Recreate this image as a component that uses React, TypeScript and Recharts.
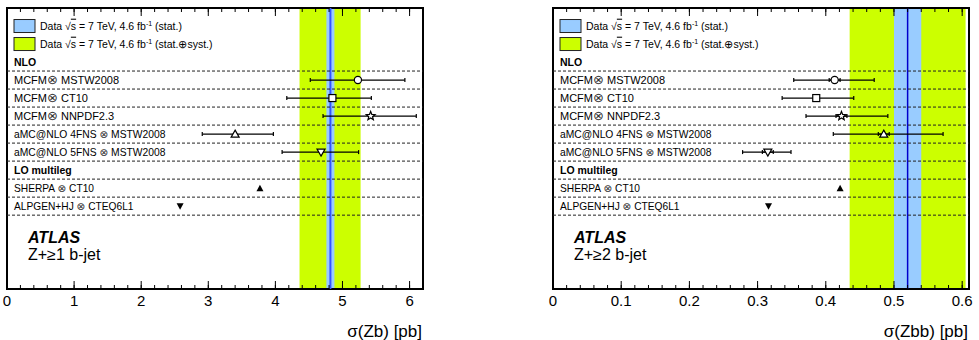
import React from 'react'
import {
  ScatterChart,
  Scatter,
  XAxis,
  YAxis,
  ErrorBar,
  ReferenceArea,
  ReferenceLine,
} from 'recharts'

// ---- prediction labels -------------------------------------------------
const NLO_LABELS = [
  'MCFM⊗ MSTW2008',
  'MCFM⊗ CT10',
  'MCFM⊗ NNPDF2.3',
  'aMC@NLO 4FNS ⊗ MSTW2008',
  'aMC@NLO 5FNS ⊗ MSTW2008',
]
const LO_LABELS = ['SHERPA ⊗ CT10', 'ALPGEN+HJ ⊗ CTEQ6L1']

// ---- Z + >=1 b-jet [pb] --------------------------------------------------
const ZB_MEAS = 4.82
const ZB_STAT = 0.06
const ZB_TOT_DOWN = 0.46
const ZB_TOT_UP = 0.45
const ZB_NLO = [5.23, 4.85, 5.42, 3.4, 4.68]
const ZB_NLO_DOWN = [0.71, 0.68, 0.71, 0.49, 0.58]
const ZB_NLO_UP = [0.7, 0.58, 0.68, 0.57, 0.56]
const ZB_NLO_STAT = [0, 0, 0, 0, 0]
const ZB_LO = [3.77, 2.58]
const ZB_TICKS = [0, 1, 2, 3, 4, 5, 6]

// ---- Z + >=2 b-jets [pb] -------------------------------------------------
const ZBB_MEAS = 0.52
const ZBB_STAT = 0.02
const ZBB_TOT_DOWN = 0.085
const ZBB_TOT_UP = 0.085
const ZBB_NLO = [0.413, 0.386, 0.423, 0.485, 0.315]
const ZBB_NLO_DOWN = [0.06, 0.05, 0.052, 0.074, 0.037]
const ZBB_NLO_UP = [0.058, 0.055, 0.068, 0.087, 0.034]
const ZBB_NLO_STAT = [0.008, 0, 0.008, 0.008, 0.008]
const ZBB_LO = [0.421, 0.316]
const ZBB_TICKS = [0, 0.1, 0.2, 0.3, 0.4, 0.5, 0.6]

const NLO_MARKERS = ['circle', 'square', 'star', 'triUp', 'triDown']
const LO_MARKERS = ['triUpFilled', 'triDownFilled']

const FONT = '"Liberation Sans", Arial, Helvetica, sans-serif'
const SYMBOL_FONT = '"DejaVu Sans", sans-serif'
const GREEN = '#ccff00'
const BLUE = '#99ccff'
const ROW_MAX = 15.6

// row positions (top = 0)
const ROW_LEG_STAT = 1
const ROW_LEG_TOT = 2
const ROW_NLO = 3
const ROW_LO = 9
const ROW_ATLAS = 13.05
const ROW_PROCESS = 14.0

type MarkerProps = { cx?: number; cy?: number; payload?: { kind: string } }

function Marker({ cx = 0, cy = 0, payload }: MarkerProps) {
  const kind = payload?.kind
  const common = { stroke: '#000', strokeWidth: 1.2, fill: '#fff' }
  switch (kind) {
    case 'circle':
      return <circle cx={cx} cy={cy} r={3.6} {...common} />
    case 'square':
      return <rect x={cx - 3.5} y={cy - 3.5} width={7} height={7} {...common} />
    case 'star': {
      const pts: string[] = []
      for (let k = 0; k < 10; k++) {
        const r = k % 2 === 0 ? 4.6 : 2
        const a = -Math.PI / 2 + (k * Math.PI) / 5
        pts.push(`${cx + r * Math.cos(a)},${cy + r * Math.sin(a)}`)
      }
      return <polygon points={pts.join(' ')} {...common} />
    }
    case 'triUp':
      return <polygon points={`${cx},${cy - 4} ${cx + 4},${cy + 3} ${cx - 4},${cy + 3}`} {...common} />
    case 'triDown':
      return <polygon points={`${cx},${cy + 4} ${cx + 4},${cy - 3} ${cx - 4},${cy - 3}`} {...common} />
    case 'triUpFilled':
      return <polygon points={`${cx},${cy - 3.5} ${cx + 3.5},${cy + 3} ${cx - 3.5},${cy + 3}`} fill="#000" />
    case 'triDownFilled':
      return <polygon points={`${cx},${cy + 3.5} ${cx + 3.5},${cy - 3} ${cx - 3.5},${cy - 3}`} fill="#000" />
    default:
      return <g />
  }
}

// model label, with the convolution sign drawn from a font that has a full-size glyph
function ModelLabel(props: { x: number; y: number; text: string; size: number; symbolSize: number }) {
  const { x, y, text, size, symbolSize } = props
  const [a, b] = text.split('⊗')
  return (
    <text x={x} y={y} dy="0.35em" fontSize={size} fontFamily={FONT} fill="#000">
      <tspan>{a}</tspan>
      <tspan fontFamily={SYMBOL_FONT} fontSize={symbolSize} fill="#333">⊗</tspan>
      <tspan>{b}</tspan>
    </text>
  )
}

function LegendText({ x, y, tail }: { x: number; y: number; tail: string }) {
  return (
    <text x={x} y={y} dy="0.35em" fontSize={10.5} fontFamily={FONT} fill="#000">
      <tspan>Data √</tspan>
      <tspan textDecoration="overline">s</tspan>
      <tspan> = 7 TeV, 4.6 fb</tspan>
      <tspan dy={-4} fontSize={7}>-1</tspan>
      <tspan dy={4}> ({tail})</tspan>
    </text>
  )
}

interface PanelProps {
  left: number
  marginLeft: number
  marginRight: number
  xMax: number
  ticks: number[]
  minorStep: number
  meas: number
  stat: number
  totDown: number
  totUp: number
  nlo: number[]
  nloDown: number[]
  nloUp: number[]
  nloStat: number[]
  lo: number[]
  xTitle: string
  process: string
  centralColor: string
  centralWidth: number
}

function Panel(p: PanelProps) {
  const width = 490
  const height = 340
  const plotLeft = p.marginLeft

  const nloData = p.nlo.map((v, i) => ({
    x: v,
    row: 4 + i,
    err: [p.nloDown[i], p.nloUp[i]],
    stat: [p.nloStat[i], p.nloStat[i]],
    kind: NLO_MARKERS[i],
  }))
  const loData = p.lo.map((v, i) => ({ x: v, row: 10 + i, kind: LO_MARKERS[i] }))

  const rowText: Record<string, string> = {}
  NLO_LABELS.forEach((l, i) => (rowText[String(4 + i)] = l))
  LO_LABELS.forEach((l, i) => (rowText[String(10 + i)] = l))

  const minorTicks: number[] = []
  for (let v = 0; v <= p.xMax + 1e-9; v += p.minorStep) minorTicks.push(+v.toFixed(4))

  const renderRow = (props: any) => {
    const y = props.y as number
    const v = props.payload.value as number
    const tx = plotLeft + 7
    if (v === ROW_LEG_STAT || v === ROW_LEG_TOT) {
      const fill = v === ROW_LEG_STAT ? BLUE : GREEN
      return (
        <g>
          <rect x={tx} y={y - 6.5} width={21} height={13} fill={fill} stroke="#222" strokeWidth={1} />
          <LegendText x={tx + 26} y={y} tail={v === ROW_LEG_STAT ? 'stat.' : 'stat.⊕syst.'} />
        </g>
      )
    }
    if (v === ROW_NLO || v === ROW_LO) {
      return (
        <text x={tx} y={y} dy="0.35em" fontSize={10.5} fontWeight="bold" fontFamily={FONT} fill="#000">
          {v === ROW_NLO ? 'NLO' : 'LO multileg'}
        </text>
      )
    }
    if (v === ROW_ATLAS) {
      return (
        <text x={plotLeft + 21} y={y} fontSize={16} fontWeight="bold" fontStyle="italic" fontFamily={FONT} fill="#000">
          ATLAS
        </text>
      )
    }
    if (v === ROW_PROCESS) {
      return (
        <text x={plotLeft + 21} y={y} fontSize={16} fontFamily={FONT} fill="#000">
          {p.process}
        </text>
      )
    }
    const label = rowText[String(v)]
    if (v >= 10) return <ModelLabel x={tx} y={y} text={label} size={10.2} symbolSize={10.5} />
    if (label.startsWith('aMC')) return <ModelLabel x={tx} y={y} text={label} size={10.3} symbolSize={10.5} />
    return <ModelLabel x={tx} y={y} text={label} size={11} symbolSize={13} />
  }

  const tickShape = (len: number) => (s: any) => {
    const top = Math.min(s.y1, s.y2)
    const bottom = Math.max(s.y1, s.y2)
    return (
      <g>
        <line x1={s.x1} x2={s.x1} y1={top} y2={top + len} stroke="#000" strokeWidth={1} />
        <line x1={s.x1} x2={s.x1} y1={bottom} y2={bottom - len} stroke="#000" strokeWidth={1} />
      </g>
    )
  }

  return (
    <div style={{ position: 'absolute', left: p.left, top: 0, width, height }}>
      <ScatterChart
        width={width}
        height={height}
        margin={{ top: 8, right: p.marginRight, bottom: 0, left: p.marginLeft }}
      >
        <XAxis
          type="number"
          dataKey="x"
          domain={[0, p.xMax]}
          ticks={p.ticks}
          allowDataOverflow
          axisLine={false}
          tickLine={false}
          tickSize={0}
          tickMargin={6}
          height={51}
          interval={0}
          tick={{ fontSize: 15, fill: '#000', fontFamily: FONT }}
          label={{
            value: p.xTitle,
            position: 'insideBottomRight',
            offset: 3,
            dx: 2,
            fontSize: 17,
            fill: '#000',
            fontFamily: FONT,
          }}
        />
        <YAxis
          type="number"
          dataKey="row"
          domain={[0, ROW_MAX]}
          reversed
          mirror
          allowDataOverflow
          axisLine={false}
          tickLine={false}
          interval={0}
          ticks={[1, 2, 3, 4, 5, 6, 7, 8, 9, 10, 11, ROW_ATLAS, ROW_PROCESS]}
          tick={renderRow}
        />

        {/* measured value: total and statistical bands */}
        <ReferenceArea x1={p.meas - p.totDown} x2={p.meas + p.totUp} fill={GREEN} fillOpacity={1} stroke="none" />
        <ReferenceArea x1={p.meas - p.stat} x2={p.meas + p.stat} fill={BLUE} fillOpacity={1} stroke="none" />
        <ReferenceLine x={p.meas} stroke={p.centralColor} strokeWidth={p.centralWidth} />

        {/* dashed row separators */}
        {[3.5, 4.5, 5.5, 6.5, 7.5, 8.5, 9.5, 10.5, 11.5].map((r) => (
          <ReferenceLine key={r} y={r} stroke="#222" strokeDasharray="3 2" strokeWidth={1} />
        ))}

        {/* inner axis ticks, top and bottom */}
        {minorTicks.map((t) => (
          <ReferenceLine key={`m${t}`} x={t} shape={tickShape(4)} />
        ))}
        {p.ticks.map((t) => (
          <ReferenceLine key={`M${t}`} x={t} shape={tickShape(8)} />
        ))}

        {/* frame */}
        <ReferenceArea x1={0} x2={p.xMax} y1={0} y2={ROW_MAX} fill="none" stroke="#000" strokeWidth={2} />

        <Scatter data={nloData} shape={(s: any) => <Marker {...s} />} isAnimationActive={false}>
          <ErrorBar dataKey="err" direction="x" width={2} stroke="#000" strokeWidth={1.2} />
          <ErrorBar dataKey="stat" direction="x" width={2} stroke="#000" strokeWidth={1.2} />
        </Scatter>
        <Scatter data={loData} shape={(s: any) => <Marker {...s} />} isAnimationActive={false} />
      </ScatterChart>
    </div>
  )
}

export default function App() {
  return (
    <div style={{ position: 'absolute', left: 0, top: 0, width: 979, height: 340, background: '#fff' }}>
      <Panel
        left={0}
        marginLeft={7}
        marginRight={67}
        xMax={6.2}
        ticks={ZB_TICKS}
        minorStep={0.2}
        meas={ZB_MEAS}
        stat={ZB_STAT}
        totDown={ZB_TOT_DOWN}
        totUp={ZB_TOT_UP}
        nlo={ZB_NLO}
        nloDown={ZB_NLO_DOWN}
        nloUp={ZB_NLO_UP}
        nloStat={ZB_NLO_STAT}
        lo={ZB_LO}
        xTitle="σ(Zb) [pb]"
        process="Z+≥1 b-jet"
        centralColor="#3355ff"
        centralWidth={2}
      />
      <Panel
        left={489}
        marginLeft={64}
        marginRight={10}
        xMax={0.61}
        ticks={ZBB_TICKS}
        minorStep={0.02}
        meas={ZBB_MEAS}
        stat={ZBB_STAT}
        totDown={ZBB_TOT_DOWN}
        totUp={ZBB_TOT_UP}
        nlo={ZBB_NLO}
        nloDown={ZBB_NLO_DOWN}
        nloUp={ZBB_NLO_UP}
        nloStat={ZBB_NLO_STAT}
        lo={ZBB_LO}
        xTitle="σ(Zbb) [pb]"
        process="Z+≥2 b-jet"
        centralColor="#0000cc"
        centralWidth={1.5}
      />
    </div>
  )
}
